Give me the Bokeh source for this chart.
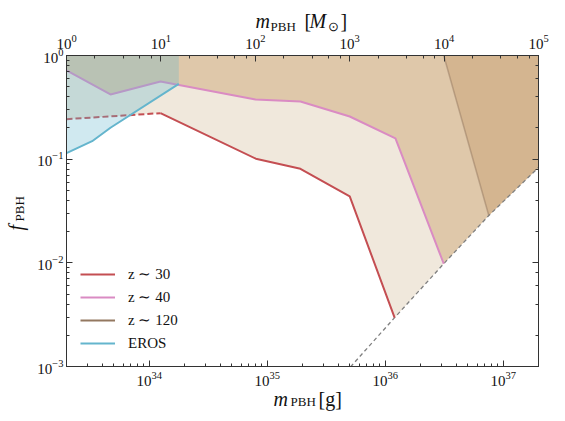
import numpy as np
from bokeh.plotting import figure
from bokeh.models import (Range1d, LogAxis, LogScale, Legend, LegendItem, Title,
                          CustomJSTickFormatter)
from bokeh.embed import file_html
from bokeh.resources import INLINE

MSUN = 1.989e33
x_min, x_max = MSUN, 1e4 * MSUN
top_min, top_max = 1.0, 1e5
y_min, y_max = 1e-3, 1.0

# z ~ 30 (dashed part then solid part)
z30_dash_x = [1.989e33, 1.245e34]
z30_dash_y = [0.243, 0.278]
z30_x = [1.245e34, 8.0e34, 1.91e35, 5.0e35, 1.2e36]
z30_y = [0.278, 0.101, 0.0808, 0.0437, 0.00296]
# z ~ 40
z40_x = [1.989e33, 4.69e33, 1.245e34, 7.95e34, 1.91e35, 5.0e35, 1.22e36, 3.13e36]
z40_y = [0.717, 0.421, 0.561, 0.376, 0.360, 0.258, 0.159, 0.0098]
# z ~ 120
z120_x = [3.13e36, 7.54e36]
z120_y = [1.0, 0.0286]
# EROS
eros_x = [1.989e33, 3.28e33, 4.69e33, 1.78e34]
eros_y = [0.1143, 0.149, 0.201, 0.533]
# grey dashed boundary
bound_x = [5.07e35, 1.2e36, 3.13e36, 7.54e36, 2.0e37]
bound_y = [0.00099, 0.00296, 0.0098, 0.0286, 0.0837]

legend_labels = ["z ∼ 30", "z ∼ 40", "z ∼ 120", "EROS"]

RED = "#c44e52"
PINK = "#da8bc3"
BROWN = "#937860"
CYAN = "#64b5cd"
FONT = "Liberation Serif"
INK = "#111111"

p = figure(width=565, height=421, x_axis_type="log", y_axis_type="log",
           x_range=Range1d(x_min, x_max), y_range=Range1d(y_min, y_max),
           output_backend="svg", toolbar_location=None,
           min_border_left=66, min_border_right=27, min_border_top=55, min_border_bottom=55)
p.grid.visible = False
p.outline_line_color = "#333333"
p.background_fill_color = "white"

def tail_after(xe):
    return [(bx, by) for bx, by in zip(bound_x, bound_y) if bx > xe * 1.001]

xr = bound_x[-1]
# z30 fill
px = [x_min] + z30_dash_x + z30_x[1:]
py = [y_max] + z30_dash_y + z30_y[1:]
for bx, by in tail_after(z30_x[-1]):
    px.append(bx); py.append(by)
px += [xr]; py += [y_max]
p.patch(px, py, fill_color="#f0e8dc", line_color=None)
# z40 fill
px = [x_min] + z40_x
py = [y_max] + z40_y
for bx, by in tail_after(z40_x[-1]):
    px.append(bx); py.append(by)
px += [xr]; py += [y_max]
p.patch(px, py, fill_color="#dfc8aa", line_color=None)
# z120 fill
px = list(z120_x)
py = list(z120_y)
for bx, by in tail_after(z120_x[-1]):
    px.append(bx); py.append(by)
px += [xr]; py += [y_max]
p.patch(px, py, fill_color="#d4b590", line_color=None)

# lines
p.line(bound_x, bound_y, line_color="#808080", line_width=1.3, line_dash="4 3")
p.line(z30_dash_x, z30_dash_y, line_color=RED, line_width=2, line_dash="6 3")
p.line(z30_x, z30_y, line_color=RED, line_width=2)
p.line(z40_x, z40_y, line_color=PINK, line_width=2)
p.line(z120_x, z120_y, line_color=BROWN, line_width=1.5, line_alpha=0.5)

# EROS
ex = [x_min] + eros_x + [eros_x[-1]]
ey = [y_max] + eros_y + [y_max]
p.patch(ex, ey, fill_color=CYAN, fill_alpha=0.3, line_color=None)
p.line(eros_x, eros_y, line_color=CYAN, line_width=2)

# legend with off-range proxy renderers
proxies = []
for c in [RED, PINK, BROWN, CYAN]:
    proxies.append(p.line([x_min, x_max], [1e-9, 1e-9], line_color=c, line_width=2))
legend = Legend(items=[LegendItem(label=t, renderers=[r]) for t, r in zip(legend_labels, proxies)],
                location=(14, 13), padding=0, margin=0, spacing=3,
                glyph_width=35, glyph_height=20, label_height=20, label_standoff=13,
                border_line_alpha=0, background_fill_alpha=0,
                label_text_font=FONT, label_text_font_size="15px", label_text_color=INK)
p.add_layout(legend)

# axes
top = LogAxis(x_range_name="msun")
p.extra_x_ranges = {"msun": Range1d(top_min, top_max)}
p.extra_x_scales = {"msun": LogScale()}
p.add_layout(top, "above")
right = LogAxis(formatter=CustomJSTickFormatter(code="return ''"))
p.add_layout(right, "right")

for ax in [p.below[0], p.left[0], top, right]:
    ax.major_tick_in = 6
    ax.major_tick_out = 0
    ax.minor_tick_in = 3
    ax.minor_tick_out = 0
    ax.axis_line_color = "#333333"
    ax.major_tick_line_color = "#333333"
    ax.minor_tick_line_color = "#333333"
    ax.major_label_text_font = FONT
    ax.major_label_text_font_size = "15px"
    ax.major_label_text_color = INK
p.below[0].major_label_standoff = 5
p.left[0].major_label_standoff = 3
top.major_label_standoff = 7

# axis titles built from zero-size pieces placed in the side panels
def H(sz):
    return round(1.107 * sz)

P_SIDE = {"below": 389.5, "left": 35.0}

def piece(side, text, sz, offset, center, italic=False):
    h = H(sz)
    P = P_SIDE[side]
    if side == "left":
        va = "top"
        S = 2 * (center - h / 2 - P)
    elif center >= P + 1:
        va = "bottom"
        S = -2 * (center + h / 2 - P)
    else:
        va = "top"
        S = 2 * (center - h / 2 - P)
    t = Title(text=text, align="left", offset=offset, vertical_align=va,
              standoff=int(round(S)), text_font=FONT, text_font_size=f"{sz}px",
              text_font_style="italic" if italic else "normal", text_color=INK)
    p.add_layout(t, side)

# bottom: m_PBH [g]
piece("below", "m", 20, 207, 400.0, italic=True)
piece("below", "PBH", 13, 224, 402.5)
piece("below", "[g]", 20, 252, 400.0)
# top: m_PBH [M_sun]
piece("below", "m", 20, 189, 22.0, italic=True)
piece("below", "PBH", 13, 204, 27.0)
piece("below", "[", 20, 238, 22.0)
piece("below", "M", 20, 243, 22.0, italic=True)
piece("below", "⊙", 13, 261, 27.0)
piece("below", "]", 20, 274, 22.0)
# left: f_PBH
piece("left", "f", 20, 136, 16.5, italic=True)
piece("left", "PBH", 13, 145, 19.0)

open("out.html", "w").write(file_html(p, INLINE))
